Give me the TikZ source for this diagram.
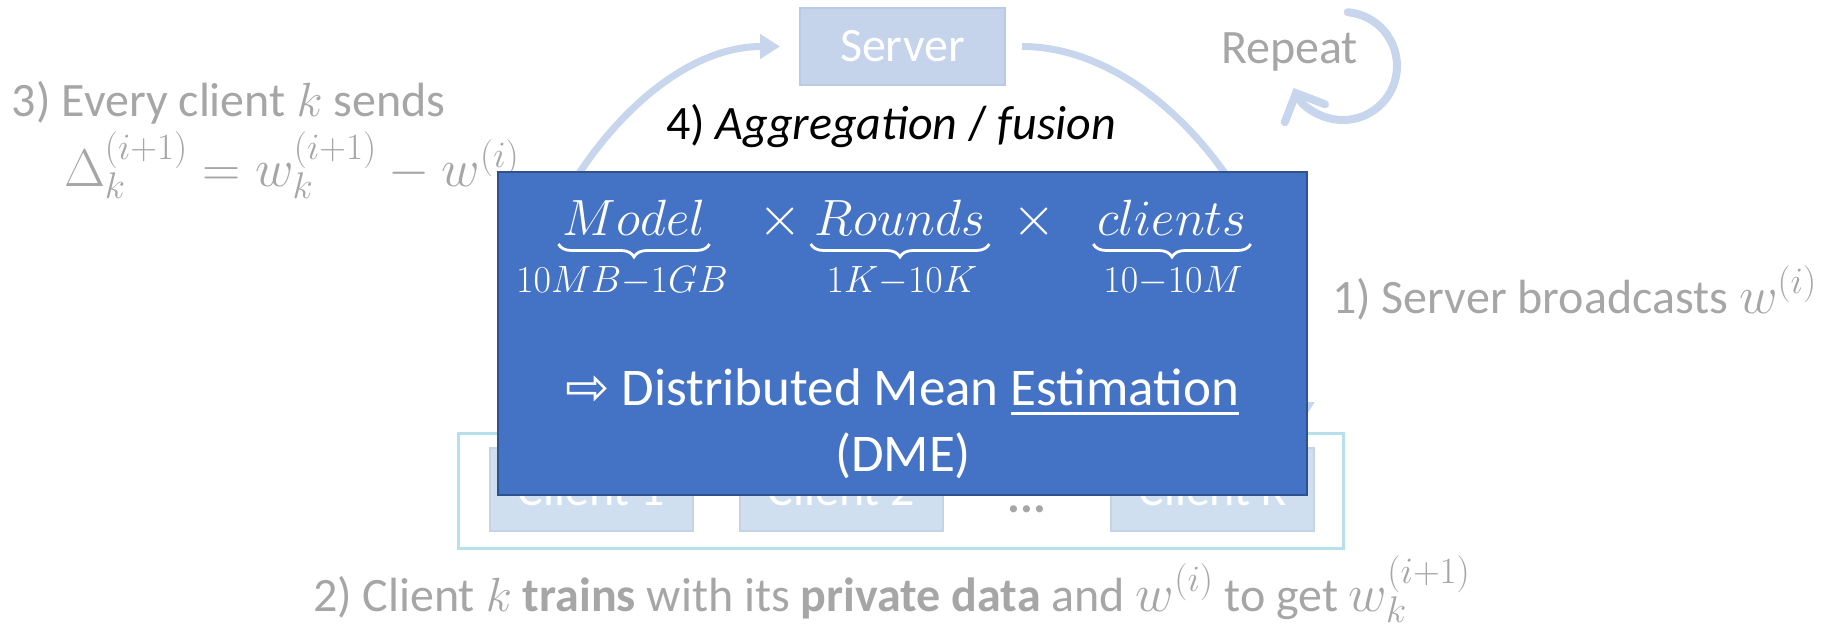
\RequirePackage{fix-cm}
\documentclass[tikz,border=0pt]{standalone}
\usepackage{amsmath}
\usepackage[no-math]{fontspec}
\setmainfont{Carlito}
\newfontfamily\symbolfont{DejaVu Sans}
\usetikzlibrary{arrows.meta,calc,decorations.pathreplacing}

\definecolor{txtgray}{HTML}{A6A6A6}
\definecolor{dmeblue}{HTML}{4472C4}
\definecolor{dmeedge}{HTML}{2F528F}
\definecolor{flowblue}{HTML}{C7D5ED}
\definecolor{serverfill}{HTML}{C5D3EB}
\definecolor{serveredge}{HTML}{BACAE6}
\definecolor{clientfill}{HTML}{CFDFEF}
\definecolor{clientedge}{HTML}{C5D3E2}
\definecolor{groupedge}{HTML}{B5E0EC}

% thick underline set a little below the baseline
\newcommand{\ulword}[1]{\setbox0\hbox{#1}\rlap{\rule[-10pt]{\wd0}{3.5pt}}\box0}
% maths a little larger than the surrounding text
\newcommand{\largemath}[1]{{\fontsize{53}{60}\selectfont$#1$}}

\tikzset{
  bigtext/.style={font=\fontsize{48}{58}\selectfont, inner sep=0pt, outer sep=0pt},
  graytext/.style={bigtext, text=txtgray},
  blacktext/.style={bigtext, text=black},
  serverbox/.style={draw=serveredge, line width=2pt, fill=serverfill, text=white,
    minimum width=205pt, minimum height=77pt, bigtext},
  clientbox/.style={draw=clientedge, line width=2pt, fill=clientfill, text=white,
    minimum width=203pt, minimum height=83pt, bigtext},
  groupbox/.style={draw=groupedge, line width=3pt, minimum width=885pt, minimum height=115pt, inner sep=0pt},
  dmebox/.style={draw=dmeedge, line width=2pt, fill=dmeblue, minimum width=809pt,
    minimum height=323pt, inner sep=0pt},
  mathwhite/.style={text=white, font=\fontsize{51}{60}\selectfont, inner sep=0pt},
  rangewhite/.style={text=white, font=\fontsize{38}{44}\selectfont, inner sep=0pt},
  dmetext/.style={text=white, font=\fontsize{53}{62}\selectfont, inner sep=0pt},
  underbr/.style={draw=white, line width=2.8pt, decorate,
    decoration={brace, mirror, amplitude=13pt, aspect=0.5}},
  flow/.style={draw=flowblue, line width=7pt, -{Triangle[length=20pt, width=24pt]}},
  loopflow/.style={draw=flowblue, line width=8pt, line cap=round,
    -{Straight Barb[length=22pt, width=44pt, line cap=round]}}
}

\begin{document}
\begin{tikzpicture}[x=1pt, y=-1pt]
\useasboundingbox (0,0) rectangle (1832,631);

% server and the client group
\node[serverbox] (server) at (902.5,46.5) {Server};
\node[groupbox] (clients) at (900.5,490.5) {};
\node[clientbox] (c1) at (591.5,489.5) {Client 1};
\node[clientbox] (c2) at (841.5,489.5) {Client 2};
\node[clientbox] (ck) at (1212.5,489.5) {Client K};
\node[graytext, anchor=base] (dots) at (1027,512) {\textbf{...}};

% round trip between clients and server
\coordinate (upstart) at (502,422);
\coordinate (downend) at (1302,422);
\draw[flow, shorten >=20pt] (upstart) .. controls +(0,-190) and +(-160,0) .. (server.west);
\draw[flow, shorten <=17pt] (server.east) .. controls +(160,0) and +(0,-190) .. (downend);

% repeat loop
\node[graytext, anchor=base west] (repeat) at (1221,64) {Repeat};
\coordinate (loopc) at (1343,66);
\draw[loopflow] ($(loopc)+(-85:54)$) arc[start angle=-85, end angle=156, radius=54];

% step labels
\node[graytext, anchor=base west] (step3) at (12,117) {3) Every client $k$ sends};
\node[graytext, anchor=base west] (delta) at (64,187)
  {\largemath{\Delta_k^{(i+1)} = w_k^{(i+1)} - w^{(i)}}};
\node[blacktext, anchor=base west] (step4) at (666,140)
  {4) \textit{Aggregation} / \textit{fusion}};
\node[graytext, anchor=base west] (step1) at (1332,313) {1) Server broadcasts \largemath{w^{(i)}}};
\node[graytext, anchor=base west] (step2) at (313,611)
  {2) Client $k$ \textbf{trains} with its \textbf{private data} and \largemath{w^{(i)}} to get \largemath{w_k^{(i+1)}}};

% communication cost box
\node[dmebox] (dme) at (902.5,333.5) {};
\node[mathwhite, anchor=base] (model) at (634,236) {$Model$};
\node[mathwhite, anchor=base, font=\fontsize{56}{60}\selectfont] (x1) at (780,236) {$\times$};
\node[mathwhite, anchor=base] (rounds) at (900,236) {$Rounds$};
\node[mathwhite, anchor=base, font=\fontsize{56}{60}\selectfont] (x2) at (1034,236) {$\times$};
\node[mathwhite, anchor=base] (nclients) at (1172,236) {$clients$};
\draw[underbr] ($(model.base west)+(-4,8)$) -- ($(model.base east)+(4,8)$);
\draw[underbr] ($(rounds.base west)+(-4,8)$) -- ($(rounds.base east)+(4,8)$);
\draw[underbr] ($(nclients.base west)+(-4,8)$) -- ($(nclients.base east)+(4,8)$);
\node[rangewhite, anchor=base] (modelsize) at (622,292) {$10MB{-}1GB$};
\node[rangewhite, anchor=base] (roundcount) at (902,292) {$1K{-}10K$};
\node[rangewhite, anchor=base] (clientcount) at (1173,292) {$10{-}10M$};
\node[dmetext, anchor=base] (dmeline) at (902,405)
  {{\symbolfont ⇨}\ Distributed Mean \ulword{Estimation}};
\node[dmetext, anchor=base] (dmeabbr) at (903,471) {(DME)};
\end{tikzpicture}
\end{document}
